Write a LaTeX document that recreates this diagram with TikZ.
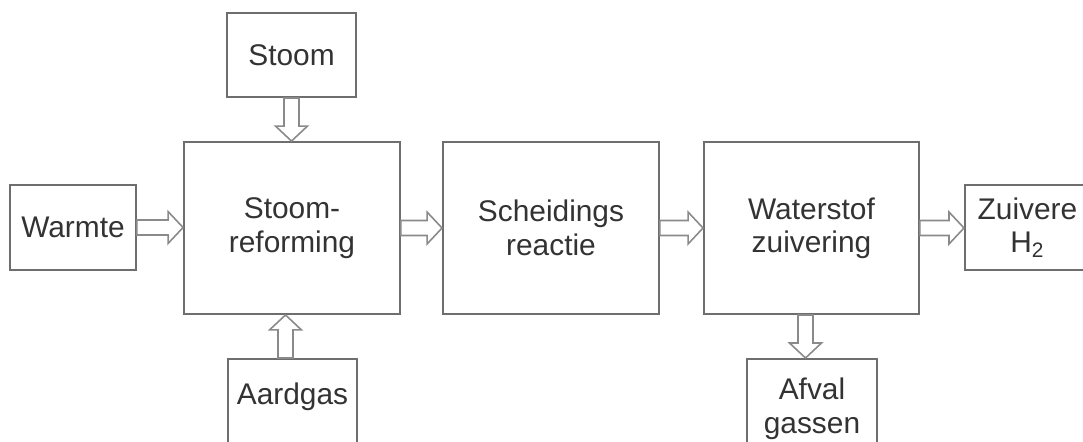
\documentclass[tikz,border=0pt]{standalone}
\usepackage{fontspec}
\setmainfont{Liberation Sans}
\usepackage{tikz}
\usetikzlibrary{calc}

\definecolor{boxline}{HTML}{6E6E6E}
\definecolor{arrowline}{HTML}{8A8A8A}
\definecolor{textgray}{HTML}{333333}

% hollow block arrow from #1 to #2
\newcommand{\blockarrow}[2]{%
  \coordinate (ba-s) at (#1);
  \coordinate (ba-t) at (#2);
  \coordinate (ba-b) at ($(ba-t)!0.3cm!(ba-s)$);
  \draw[flowarrow] ($(ba-s)!0.15cm!90:(ba-t)$) -- ($(ba-b)!0.15cm!90:(ba-t)$)
    -- ($(ba-b)!0.32cm!90:(ba-t)$) -- (ba-t) -- ($(ba-b)!0.32cm!-90:(ba-t)$)
    -- ($(ba-b)!0.15cm!-90:(ba-t)$) -- ($(ba-s)!0.15cm!-90:(ba-t)$) -- cycle;
}

\begin{document}
\begin{tikzpicture}[x=0.02cm, y=-0.02cm,
    stepbox/.style={rectangle, draw=boxline, line width=1.1pt, fill=white,
      text=textgray, align=center, font=\fontsize{17}{19}\selectfont},
    flowarrow/.style={draw=arrowline, line width=0.9pt, fill=white, line join=miter}]
	\useasboundingbox (0,0) rectangle (1083,441);

	% --- Process blocks ---
	\node[stepbox, minimum width=4.32cm, minimum height=3.44cm] (reform) at (292, 228) {Stoom-\\reforming};
	\node[stepbox, minimum width=4.32cm, minimum height=3.44cm] (scheid) at (551, 228) {Scheidings\\reactie};
	\node[stepbox, minimum width=4.30cm, minimum height=3.44cm] (water) at (811.5, 228) {Waterstof\\zuivering};

	% --- Inputs and outputs ---
	\node[stepbox, minimum width=2.52cm, minimum height=1.7cm] (warmte) at (73, 227.5) {Warmte};
	\node[stepbox, minimum width=2.58cm, minimum height=1.68cm] (stoom) at (291.5, 55) {Stoom};
	\node[stepbox, minimum width=2.58cm, minimum height=2cm, text depth=0.6cm, anchor=north] (aard) at (292.5, 358) {Aardgas};
	\node[stepbox, minimum width=2.5cm, minimum height=1.7cm, anchor=west] (zuiv) at (964, 227.5) {Zuivere\\H\textsubscript{2}};
	\node[stepbox, minimum width=2.6cm, minimum height=2cm, anchor=north] (afval) at (812, 358) {Afval\\gassen};

	% --- Flows ---
	\coordinate (aardin) at ([xshift=-0.14cm]aard.north);
	\coordinate (afvalin) at ([xshift=-0.13cm]afval.north);
	\blockarrow{warmte.east}{warmte.east -| reform.west}
	\blockarrow{stoom.south}{stoom.south |- reform.north}
	\blockarrow{aardin}{aardin |- reform.south}
	\blockarrow{reform.east}{scheid.west}
	\blockarrow{scheid.east}{water.west}
	\blockarrow{water.east}{water.east -| zuiv.west}
	\blockarrow{afvalin |- water.south}{afvalin}
\end{tikzpicture}
\end{document}
